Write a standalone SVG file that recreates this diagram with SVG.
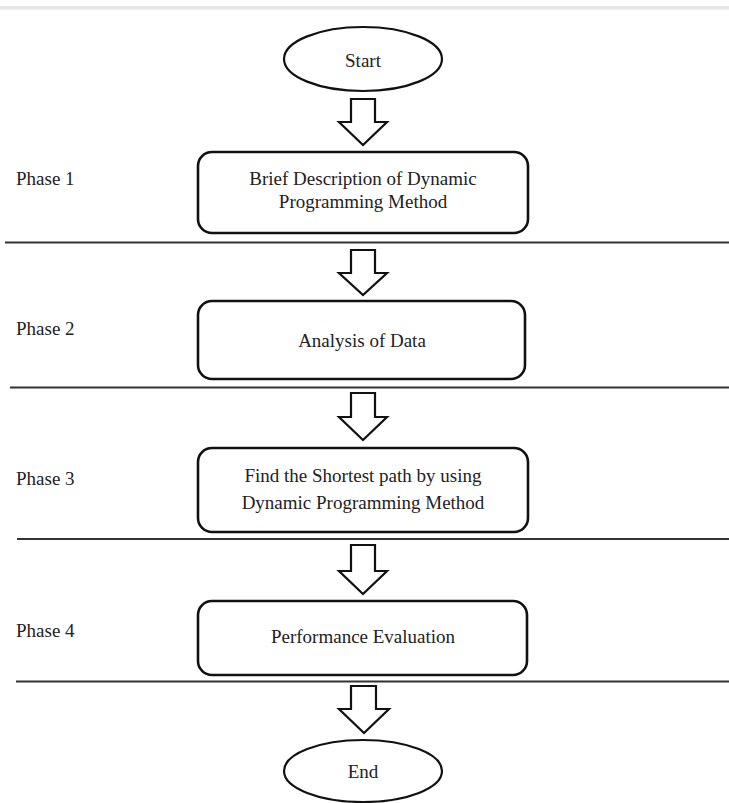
<svg xmlns="http://www.w3.org/2000/svg" width="729" height="803" viewBox="0 0 729 803">
<defs>
<style>
.bg{fill:#ffffff}
.bar{fill:#e6e6e6}
.box{fill:#ffffff;stroke:#111111;stroke-width:2.6}
.term{fill:#ffffff;stroke:#111111;stroke-width:2.2}
.arrow{fill:#ffffff;stroke:#111111;stroke-width:2.2;stroke-linejoin:miter}
.div{stroke:#333333;stroke-width:1.8}
.t{font-family:"Liberation Serif","Times New Roman",serif;font-size:19px;fill:#222222}
.c{text-anchor:middle}
</style>
</defs>
<rect class="bg" x="0" y="0" width="729" height="803"/>
<rect class="bar" x="0" y="6" width="729" height="3.5"/>

<g id="dividers">
<line class="div" x1="5" y1="242.5" x2="729" y2="242.5"/>
<line class="div" x1="10" y1="387.5" x2="729" y2="387.5"/>
<line class="div" x1="17" y1="539" x2="729" y2="539"/>
<line class="div" x1="16" y1="681.5" x2="729" y2="681.5"/>
</g>

<g id="phase-labels">
<text class="t" x="16" y="185">Phase 1</text>
<text class="t" x="16" y="335">Phase 2</text>
<text class="t" x="16" y="485">Phase 3</text>
<text class="t" x="16" y="637">Phase 4</text>
</g>

<g id="connectors">
<polygon class="arrow" points="351,99 375,99 375,122 387,122 363,145 339,122 351,122"/>
<polygon class="arrow" points="351,250 375,250 375,273 387,273 363,295 339,273 351,273"/>
<polygon class="arrow" points="351,393 375,393 375,417 387,417 363,440 339,417 351,417"/>
<polygon class="arrow" points="351,545 375,545 375,571 387,571 363,594 339,571 351,571"/>
<polygon class="arrow" points="351,686 376,686 376,709 389,709 364,733 339,709 351,709"/>
</g>

<g id="start">
<ellipse class="term" cx="363" cy="59" rx="79" ry="32"/>
<text class="t c" x="363" y="67">Start</text>
</g>

<g id="phase1-box">
<rect class="box" x="198" y="152" width="330" height="81" rx="14" ry="14"/>
<text class="t c" x="363" y="185">Brief Description of Dynamic</text>
<text class="t c" x="363" y="208">Programming Method</text>
</g>

<g id="phase2-box">
<rect class="box" x="198" y="301" width="327" height="78" rx="14" ry="14"/>
<text class="t c" x="362" y="347">Analysis of Data</text>
</g>

<g id="phase3-box">
<rect class="box" x="198" y="448" width="330" height="84" rx="14" ry="14"/>
<text class="t c" x="363" y="482">Find the Shortest path by using</text>
<text class="t c" x="363" y="509">Dynamic Programming Method</text>
</g>

<g id="phase4-box">
<rect class="box" x="198" y="601" width="329" height="74" rx="14" ry="14"/>
<text class="t c" x="363" y="643">Performance Evaluation</text>
</g>

<g id="end">
<ellipse class="term" cx="363" cy="771" rx="79" ry="31"/>
<text class="t c" x="363" y="778">End</text>
</g>
</svg>
